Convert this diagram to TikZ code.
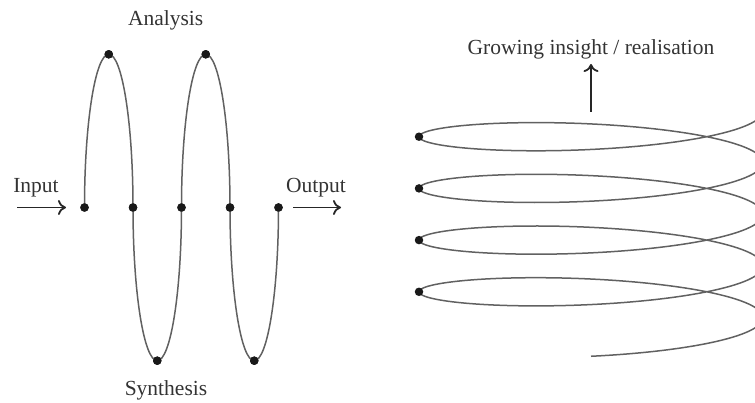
\documentclass[tikz,border=0pt]{standalone}
\usepackage{fontspec}
\setmainfont{Liberation Serif}
\usetikzlibrary{arrows.meta}
\begin{document}
\begin{tikzpicture}[x=1pt,y=-1pt,
  curve/.style={line width=1.5pt, draw=black!62},
  dotnode/.style={circle, fill=black!90, inner sep=0pt, minimum size=8.5pt},
  arr/.style={line width=1.8pt, draw=black!85, -{To[length=8pt,width=15pt]}},
  lbl/.style={text=black!80, font=\fontsize{21.5}{24}\selectfont, inner sep=0pt, anchor=base}]
\useasboundingbox (0,0) rectangle (755,403);
% ---------- left: analysis / synthesis wave ----------
\node[dotnode] (m1) at (84.5,207.5) {};
\node[dotnode] (m2) at (133,207.5) {};
\node[dotnode] (m3) at (181.5,207.5) {};
\node[dotnode] (m4) at (230,207.5) {};
\node[dotnode] (m5) at (278.5,207.5) {};
\node[dotnode] (t1) at (108.75,54.3) {};
\node[dotnode] (t2) at (205.75,54.3) {};
\node[dotnode] (b1) at (157.25,360.7) {};
\node[dotnode] (b2) at (254.25,360.7) {};
\draw[curve] (m1.center) arc[start angle=180, end angle=0, x radius=24.25, y radius=-153.2]
  arc[start angle=180, end angle=360, x radius=24.25, y radius=-153.2]
  arc[start angle=180, end angle=0, x radius=24.25, y radius=-153.2]
  arc[start angle=180, end angle=360, x radius=24.25, y radius=-153.2];
\node[dotnode] at (m1) {};
\node[dotnode] at (m2) {};
\node[dotnode] at (m3) {};
\node[dotnode] at (m4) {};
\node[dotnode] at (m5) {};
\node[dotnode] at (t1) {};
\node[dotnode] at (t2) {};
\node[dotnode] at (b1) {};
\node[dotnode] at (b2) {};
\node[lbl] (analysis) at (165.7,25.5) {Analysis};
\node[lbl] (synthesis) at (166,395) {Synthesis};
\node[lbl] (input) at (36,193) {Input};
\node[lbl] (output) at (316,193) {Output};
\coordinate (inS) at (17,207.5);
\coordinate (inE) at (66,207.5);
\coordinate (outS) at (293,207.5);
\coordinate (outE) at (341,207.5);
\draw[arr] (inS) -- (inE);
\draw[arr] (outS) -- (outE);
% ---------- right: helix ----------
\begin{scope}
\clip (0,0) rectangle (755,403);
\draw[curve] plot[domain=0:1530, samples=500, variable=\t]
  ({591+172*cos(\t)}, {110.85+25.7*sin(\t)+51.7*(\t/360)});
\end{scope}
\node[dotnode] (s1) at (419,136.7) {};
\node[dotnode] (s2) at (419,188.4) {};
\node[dotnode] (s3) at (419,240.1) {};
\node[dotnode] (s4) at (419,291.8) {};
\node[lbl] (insight) at (591,55) {Growing insight / realisation};
\coordinate (upS) at (591,112);
\coordinate (upE) at (591,64);
\draw[arr] (upS) -- (upE);
\end{tikzpicture}
\end{document}
